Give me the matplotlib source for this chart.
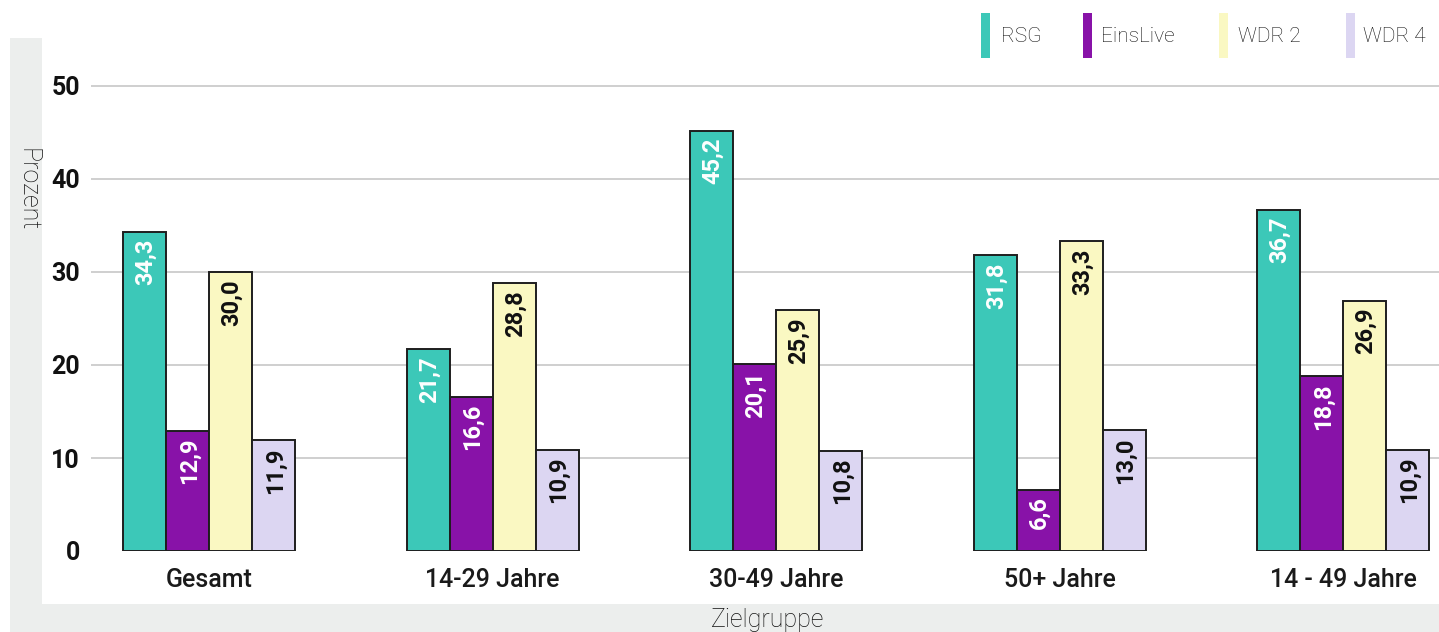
import matplotlib
matplotlib.use("Agg")
import matplotlib.pyplot as plt
from matplotlib.patches import Rectangle
import numpy as np

plt.rcParams['font.family'] = ['Roboto', 'DejaVu Sans']

categories = ["Gesamt", "14-29 Jahre", "30-49 Jahre", "50+ Jahre", "14 - 49 Jahre"]
series_names = ["RSG", "EinsLive", "WDR 2", "WDR 4"]
rsg = [34.3, 21.7, 45.2, 31.8, 36.7]
einslive = [12.9, 16.6, 20.1, 6.6, 18.8]
wdr2 = [30.0, 28.8, 25.9, 33.3, 26.9]
wdr4 = [11.9, 10.9, 10.8, 13.0, 10.9]
yticks = [0, 10, 20, 30, 40, 50]

series_values = [rsg, einslive, wdr2, wdr4]
colors = ["#3CC8B8", "#8812A8", "#FAF8C2", "#DCD6F2"]
label_colors = ["white", "white", "#111111", "#111111"]

W, H = 1439, 632
fig = plt.figure(figsize=(W / 100, H / 100), dpi=100)

def px(x0, y0, w, h):
    # convert pixel box (top-left origin) to figure fraction
    return (x0 / W, 1 - (y0 + h) / H, w / W, h / H)

# background panels
gx, gy, gw, gh = px(10, 38, W - 10, H - 38)
fig.add_artist(Rectangle((gx, gy), gw, gh, transform=fig.transFigure,
                         facecolor="#ECEEED", edgecolor="none", zorder=0))
wx, wy, ww, wh = px(42, 38, W - 42, 604 - 38)
fig.add_artist(Rectangle((wx, wy), ww, wh, transform=fig.transFigure,
                         facecolor="white", edgecolor="none", zorder=0))

# axes: y=0 at px 551, 9.3 px per unit, top at 55
y0_px, scale = 551, 9.3
ytop = 55
ax_left, ax_right = 91, W
ax = fig.add_axes([ax_left / W, (H - y0_px) / H, (ax_right - ax_left) / W, ytop * scale / H])
ax.patch.set_alpha(0)

x = np.arange(len(categories))
bw = 43 / 283.5
offsets = (np.arange(len(series_names)) - 1.5) * bw

for vals, col, lc, off in zip(series_values, colors, label_colors, offsets):
    bars = ax.bar(x + off, vals, width=bw, color=col, edgecolor="#1e1e1e",
                  linewidth=1.4, zorder=3)
    for b, v in zip(bars, vals):
        ax.annotate(f"{v:.1f}".replace(".", ","),
                    xy=(b.get_x() + b.get_width() / 2, b.get_height()),
                    xytext=(1, -5), textcoords="offset points",
                    rotation=90, ha="center", va="top",
                    fontsize=17, fontweight="bold", color=lc, zorder=4)

ax.set_xlim(-(209 - ax_left) / 283.5, -(209 - ax_left) / 283.5 + (ax_right - ax_left) / 283.5)
ax.set_ylim(0, ytop)
ax.set_yticks(yticks)
ax.set_yticklabels([str(t) for t in yticks], fontsize=18, fontweight="bold", color="#111111")
ax.set_xticks(x)
ax.set_xticklabels(categories, fontsize=18, fontweight="medium", color="#1a1a1a")
ax.tick_params(axis="y", length=0, pad=8)
ax.tick_params(axis="x", length=0, pad=12)
for s in ax.spines.values():
    s.set_visible(False)
for t in yticks[1:]:
    ax.axhline(t, color="#CCCCCC", linewidth=1.3, zorder=1)

# axis titles
fig.text(768 / W, 1 - 620 / H, "Zielgruppe", ha="center", va="center",
         fontsize=18, fontweight="light", color="#111111")
fig.text(27 / W, 1 - 190 / H, "Prozent", ha="center", va="center", rotation=270,
         fontsize=18, fontweight="light", color="#111111")

# legend
patch_x = [981, 1083, 1219, 1346]
text_x = [1001, 1101, 1238, 1363]
for name, col, pxx, tx in zip(series_names, colors, patch_x, text_x):
    rx, ry, rw, rh = px(pxx, 13, 9, 45)
    fig.add_artist(Rectangle((rx, ry), rw, rh, transform=fig.transFigure,
                             facecolor=col, edgecolor="none"))
    fig.text(tx / W, 1 - 36 / H, name, ha="left", va="center",
             fontsize=15, fontweight="light", color="#111111")

fig.savefig("out.png", dpi=100)
